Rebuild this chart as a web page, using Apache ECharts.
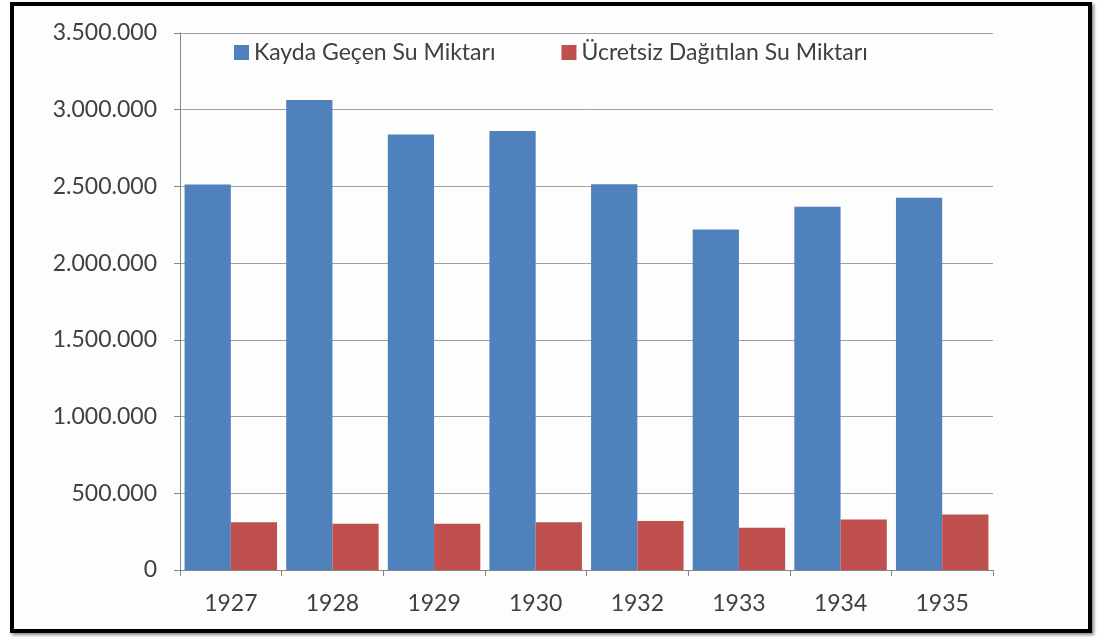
<!DOCTYPE html>
<html>
<head>
<meta charset="utf-8">
<script src="https://cdn.jsdelivr.net/npm/echarts@6/dist/echarts.min.js"></script>
<style>
  html, body { margin: 0; padding: 0; background: #fff; }
  #frame {
    position: absolute; left: 10px; top: 2px; width: 1074px; height: 623px;
    border: 4px solid #000; box-shadow: 2px 2px 3px #888; background: #fdfdfd;
  }
  #Chart { position: absolute; left: 0; top: 0; width: 1101px; height: 637px; }
</style>
</head>
<body>
<div id="frame"></div>
<div id="Chart"></div>
<script>
var years = ['1927', '1928', '1929', '1930', '1932', '1933', '1934', '1935'];
var kaydaGecen = [2513000, 3063000, 2839000, 2861000, 2515000, 2220000, 2367000, 2426000];
var ucretsiz = [311000, 302000, 302000, 311000, 320000, 276000, 329000, 361000];
var seriesNames = ['Kayda Geçen Su Miktarı', 'Ücretsiz Dağıtılan Su Miktarı'];

function fmt(v) {
  return String(v).replace(/\B(?=(\d{3})+(?!\d))/g, '.');
}

var myChart = echarts.init(document.getElementById('Chart'));
var option = {
  color: ['#4f81bd', '#c0504d'],
  textStyle: { fontFamily: 'Lato' },
  legend: {
    left: 229,
    top: 36,
    icon: 'rect',
    itemWidth: 15,
    itemHeight: 15,
    itemGap: 66,
    textStyle: { color: '#404040', fontSize: 23, fontFamily: 'Lato' },
    data: seriesNames
  },
  grid: { left: 180, right: 108, top: 33, bottom: 67 },
  xAxis: {
    type: 'category',
    data: years,
    axisLine: { lineStyle: { color: '#868686' } },
    axisTick: { show: true, length: 6, lineStyle: { color: '#868686' } },
    axisLabel: { color: '#404040', fontSize: 23, margin: 22 }
  },
  yAxis: {
    type: 'value',
    min: 0,
    max: 3500000,
    interval: 500000,
    axisLine: { show: true, lineStyle: { color: '#868686' } },
    axisTick: { show: true, length: 6, lineStyle: { color: '#868686' } },
    splitLine: { lineStyle: { color: '#a0a0a0' } },
    axisLabel: { color: '#404040', fontSize: 23, margin: 23, formatter: fmt }
  },
  series: [{
    name: seriesNames[0],
    type: 'bar',
    barGap: '0%',
    barCategoryGap: '9%',
    data: kaydaGecen
  }, {
    name: seriesNames[1],
    type: 'bar',
    barGap: '0%',
    barCategoryGap: '9%',
    data: ucretsiz
  }]
};
myChart.setOption(option);
</script>
</body>
</html>
